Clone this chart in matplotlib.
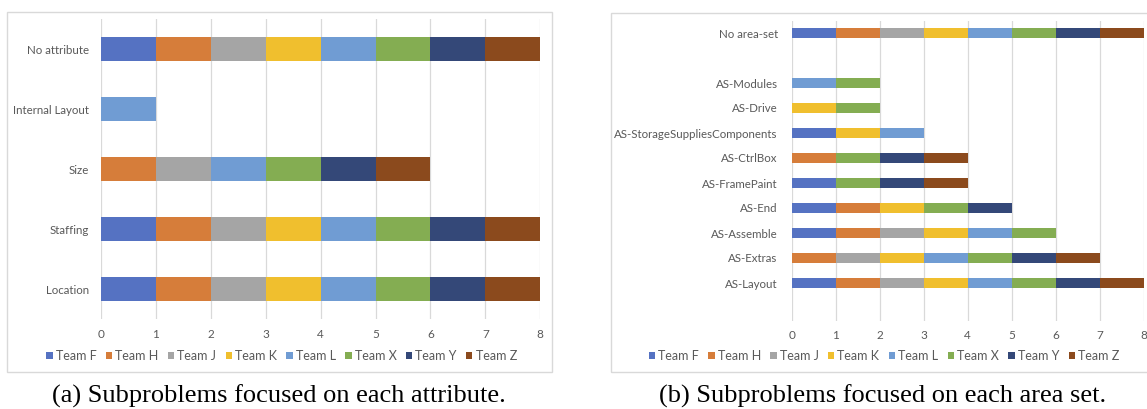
import matplotlib
matplotlib.use("Agg")
import matplotlib.pyplot as plt
from matplotlib.patches import Rectangle, Patch
import numpy as np

# Teams and their bar colours
teams = ["Team F", "Team H", "Team J", "Team K", "Team L", "Team X", "Team Y", "Team Z"]
team_colors = ["#5572C2", "#D67D3A", "#A5A5A5", "#F0BF2E", "#709CD3", "#84AD52", "#344878", "#8B4A1D"]

# (a) subproblems per attribute, listed bottom to top
attr_categories = ["Location", "Staffing", "Size", "Internal Layout", "No attribute"]
attr_team_f = [1, 1, 0, 0, 1]
attr_team_h = [1, 1, 1, 0, 1]
attr_team_j = [1, 1, 1, 0, 1]
attr_team_k = [1, 1, 0, 0, 1]
attr_team_l = [1, 1, 1, 1, 1]
attr_team_x = [1, 1, 1, 0, 1]
attr_team_y = [1, 1, 1, 0, 1]
attr_team_z = [1, 1, 1, 0, 1]

# (b) subproblems per area set, listed bottom to top (blank rows are empty slots)
area_categories = ["", "AS-Layout", "AS-Extras", "AS-Assemble", "AS-End", "AS-FramePaint",
                   "AS-CtrlBox", "AS-StorageSuppliesComponents", "AS-Drive", "AS-Modules",
                   "", "No area-set"]
area_team_f = [0, 1, 0, 1, 1, 1, 0, 1, 0, 0, 0, 1]
area_team_h = [0, 1, 1, 1, 1, 0, 1, 0, 0, 0, 0, 1]
area_team_j = [0, 1, 1, 1, 0, 0, 0, 0, 0, 0, 0, 1]
area_team_k = [0, 1, 1, 1, 1, 0, 0, 1, 1, 0, 0, 1]
area_team_l = [0, 1, 1, 1, 0, 0, 0, 1, 0, 1, 0, 1]
area_team_x = [0, 1, 1, 1, 1, 1, 1, 0, 1, 1, 0, 1]
area_team_y = [0, 1, 1, 0, 1, 1, 1, 0, 0, 0, 0, 1]
area_team_z = [0, 1, 1, 0, 0, 1, 1, 0, 0, 0, 0, 1]

x_ticks = [0, 1, 2, 3, 4, 5, 6, 7, 8]

attr_series = [attr_team_f, attr_team_h, attr_team_j, attr_team_k,
               attr_team_l, attr_team_x, attr_team_y, attr_team_z]
area_series = [area_team_f, area_team_h, area_team_j, area_team_k,
               area_team_l, area_team_x, area_team_y, area_team_z]

FONT = "Lato"
TEXT_GRAY = "#595959"
GRID_GRAY = "#D9D9D9"

W, H = 1147, 409
fig = plt.figure(figsize=(W / 100, H / 100), dpi=100)


def fx(px):
    return px / W


def fy(px):
    return 1 - px / H


def stacked_panel(rect, categories, series, label_pad):
    ax = fig.add_axes(rect)
    ypos = np.arange(len(categories))
    left = np.zeros(len(categories))
    for vals, color, name in zip(series, team_colors, teams):
        vals = np.asarray(vals, dtype=float)
        ax.barh(ypos, vals, left=left, height=0.4, color=color, label=name,
                edgecolor="none", zorder=3)
        left += vals
    ax.set_ylim(-0.5, len(categories) - 0.5)
    ax.set_xlim(0, 8)
    ax.set_xticks(x_ticks)
    ax.set_xticklabels([str(t) for t in x_ticks], fontfamily=FONT, fontsize=8.5, color=TEXT_GRAY)
    ax.set_yticks(ypos)
    ax.set_yticklabels(categories, fontfamily=FONT, fontsize=8.3, color=TEXT_GRAY)
    ax.tick_params(axis="both", length=0)
    ax.tick_params(axis="y", pad=label_pad)
    ax.tick_params(axis="x", pad=7)
    ax.grid(axis="x", color=GRID_GRAY, linewidth=0.9, zorder=0)
    for s in ax.spines.values():
        s.set_visible(False)
    return ax


# Panel (a)
ax_a = stacked_panel([fx(101), fy(319), fx(540.3) - fx(101), fy(19) - fy(319)],
                     attr_categories, attr_series, label_pad=8.6)
# Panel (b)
ax_b = stacked_panel([fx(791.7), fy(320.5), fx(1143.7) - fx(791.7), fy(20.5) - fy(320.5)],
                     area_categories, area_series, label_pad=10)

# Chart frames
fig.patches.append(Rectangle((fx(7), fy(371.5)), fx(552) - fx(7), fy(12.5) - fy(371.5),
                             transform=fig.transFigure, fill=False,
                             edgecolor=GRID_GRAY, linewidth=1))
fig.patches.append(Rectangle((fx(611), fy(371.5)), fx(1152) - fx(611), fy(13) - fy(371.5),
                             transform=fig.transFigure, fill=False,
                             edgecolor=GRID_GRAY, linewidth=1))

# Legends
handles = [Patch(facecolor=c, edgecolor="none", label=t) for t, c in zip(teams, team_colors)]
for cx in (281.7, 884):
    fig.legend(handles=handles, loc="center", bbox_to_anchor=(fx(cx), fy(356)),
               ncol=8, frameon=False, handlelength=0.5, handleheight=0.5,
               handletextpad=0.25, columnspacing=0.75, borderpad=0,
               prop={"family": FONT, "size": 9}, labelcolor=TEXT_GRAY)

# Captions
fig.text(fx(278.5), fy(396), "(a) Subproblems focused on each attribute.",
         ha="center", va="center", fontfamily="Liberation Serif", fontsize=19, color="black")
fig.text(fx(882.5), fy(396), "(b) Subproblems focused on each area set.",
         ha="center", va="center", fontfamily="Liberation Serif", fontsize=19, color="black")

fig.savefig("out.png", dpi=100)
